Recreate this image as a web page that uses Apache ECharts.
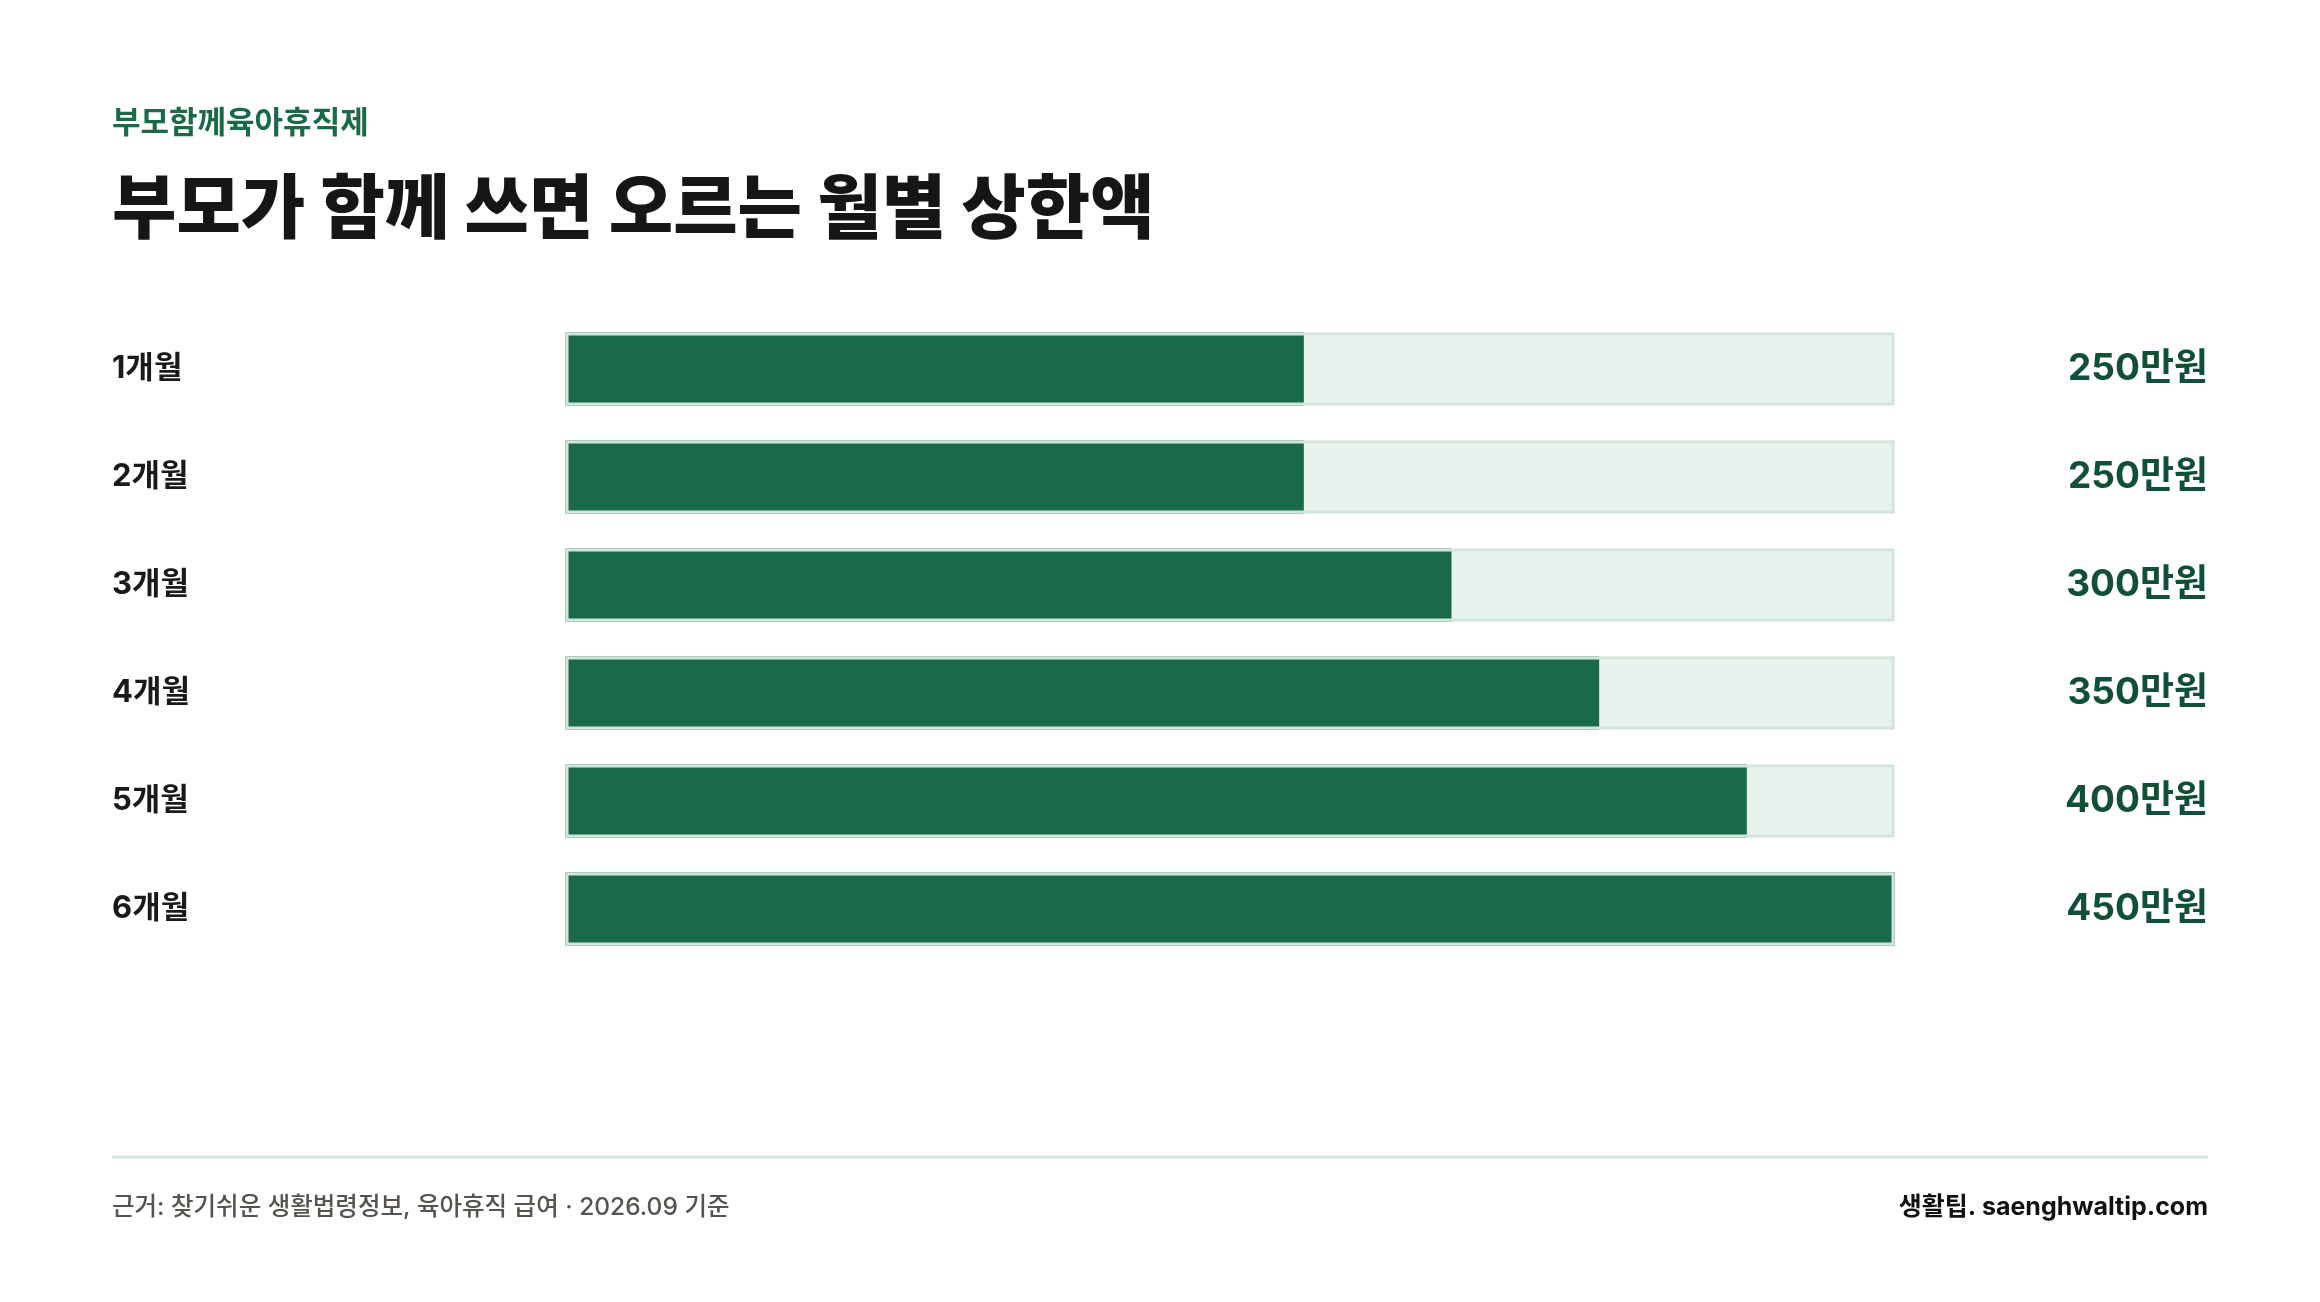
<!DOCTYPE html>
<html lang="ko">
<head>
<meta charset="utf-8">
<title>부모가 함께 쓰면 오르는 월별 상한액</title>
<script src="https://cdn.jsdelivr.net/npm/echarts@6/dist/echarts.min.js"></script>
<style>
  html, body { margin: 0; padding: 0; background: #ffffff; }
  #chart { width: 2320px; height: 1302px; }
</style>
</head>
<body>
<div id="chart"></div>
<script>
'use strict';

// 데이터
var months = ['1개월', '2개월', '3개월', '4개월', '5개월', '6개월'];
var limits = [250, 250, 300, 350, 400, 450];   // 만원
var trackMax = 450;
var unit = '만원';

var FONT = 'Inter, "Noto Sans CJK KR", sans-serif';
var GREEN = '#1a6a4a';
var TRACK = '#e9f3ee';
var EDGE = '#d4e6dc';

var chart = echarts.init(document.getElementById('chart'), null, { renderer: 'canvas' });

var trackData = months.map(function () { return trackMax; });

var option = {
    backgroundColor: '#ffffff',
    animation: false,
    title: [{
        text: '부모함께육아휴직제',
        left: 112,
        top: 108,
        padding: 0,
        textStyle: { fontFamily: FONT, fontSize: 31, fontWeight: 700, color: GREEN }
    }, {
        text: '부모가 함께 쓰면 오르는 월별 상한액',
        left: 112,
        top: 177,
        padding: 0,
        textStyle: { fontFamily: FONT, fontSize: 70, fontWeight: 800, color: '#161616' }
    }],
    grid: { left: 565.5, right: 425.5, top: 315, height: 648 },
    xAxis: { type: 'value', min: 0, max: trackMax, show: false },
    yAxis: [{
        type: 'category',
        inverse: true,
        data: months,
        axisLine: { show: false },
        axisTick: { show: false },
        axisLabel: {
            align: 'left',
            margin: 453.5,
            padding: [11, 0, 0, 0],
            fontFamily: FONT,
            fontSize: 31,
            fontWeight: 700,
            color: '#1a1a1a'
        }
    }, {
        type: 'category',
        inverse: true,
        position: 'right',
        data: limits.map(function (v) { return v + unit; }),
        axisLine: { show: false },
        axisTick: { show: false },
        axisLabel: {
            align: 'right',
            margin: 313.5,
            padding: [11, 0, 0, 0],
            fontFamily: FONT,
            fontSize: 37,
            fontWeight: 700,
            color: '#124f37'
        }
    }],
    series: [{
        // 배경 트랙
        name: 'track',
        type: 'bar',
        yAxisIndex: 0,
        data: trackData,
        barWidth: 73,
        barGap: '-100%',
        silent: true,
        itemStyle: { color: TRACK },
        z: 1
    }, {
        name: '상한액',
        type: 'bar',
        yAxisIndex: 0,
        data: limits,
        barWidth: 73,
        barGap: '-100%',
        itemStyle: { color: GREEN },
        z: 2
    }, {
        // 트랙 테두리는 맨 위에
        name: 'edge',
        type: 'bar',
        yAxisIndex: 0,
        data: trackData,
        barWidth: 73,
        barGap: '-100%',
        silent: true,
        itemStyle: { color: 'transparent', borderColor: EDGE, borderWidth: 3 },
        z: 3
    }],
    graphic: [{
        type: 'line',
        shape: { x1: 112, y1: 1157, x2: 2208, y2: 1157 },
        style: { stroke: EDGE, lineWidth: 3 },
        silent: true
    }, {
        type: 'text',
        left: 112,
        top: 1195,
        style: {
            text: '근거: 찾기쉬운 생활법령정보, 육아휴직 급여 · 2026.09 기준',
            font: '500 24.5px ' + FONT,
            fill: '#57534e'
        },
        silent: true
    }, {
        type: 'text',
        right: 112,
        top: 1195,
        style: {
            text: '생활팁. saenghwaltip.com',
            font: '700 25px ' + FONT,
            fill: '#111111'
        },
        silent: true
    }]
};

chart.setOption(option);

window.addEventListener('resize', function () {
    chart.resize();
});
</script>
</body>
</html>
